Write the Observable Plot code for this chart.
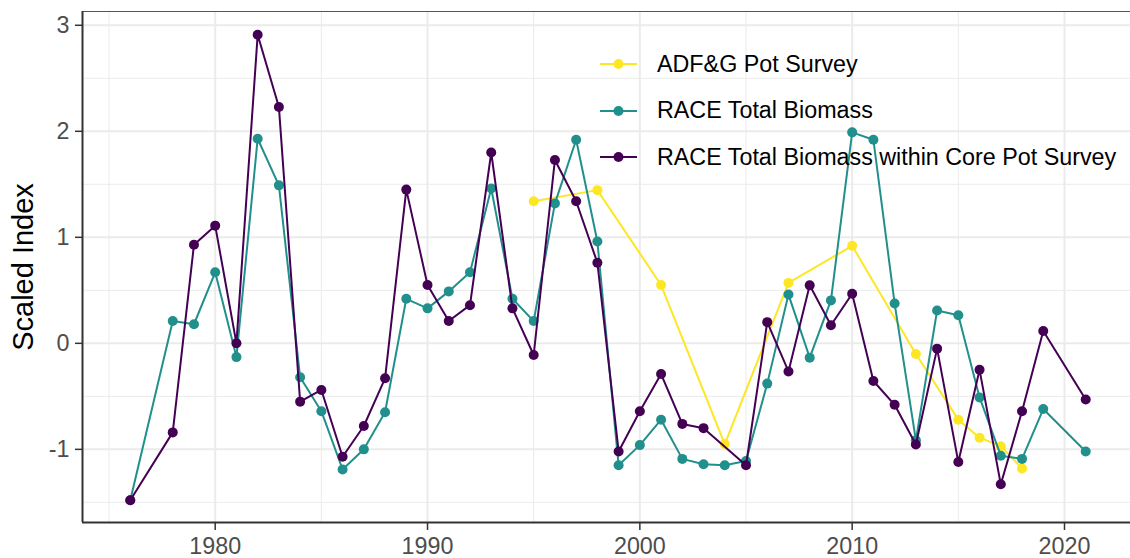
<!DOCTYPE html>
<html>
<head>
<meta charset="utf-8">
<script src="https://cdn.jsdelivr.net/npm/d3@7"></script>
<script src="https://cdn.jsdelivr.net/npm/@observablehq/plot@0.6"></script>
<style>
  html, body { margin: 0; padding: 0; background: #fff; }
  #wrap { position: relative; width: 1130px; height: 558px; overflow: hidden; font-family: "Liberation Sans", Arial, sans-serif; }
  #legend { position: absolute; left: 600px; top: 41px; }
  .row { display: flex; align-items: center; height: 46.5px; font-size: 23.3px; color: #000; }
  .row svg { margin-right: 20px; }
</style>
</head>
<body>
<div id="wrap"></div>
<script>
// ---- data ----
const seriesNames = ["ADF&G Pot Survey", "RACE Total Biomass", "RACE Total Biomass within Core Pot Survey"];
const seriesColors = ["#FDE725", "#21908C", "#440154"];

const adfgYears = [1995, 1998, 2001, 2004, 2007, 2010, 2013, 2015, 2016, 2017, 2018];
const adfgValues = [1.34, 1.445, 0.55, -0.95, 0.57, 0.92, -0.10, -0.72, -0.89, -0.97, -1.18];

const raceYears = [1976, 1978, 1979, 1980, 1981, 1982, 1983, 1984, 1985, 1986, 1987, 1988, 1989, 1990,
  1991, 1992, 1993, 1994, 1995, 1996, 1997, 1998, 1999, 2000, 2001, 2002, 2003, 2004, 2005, 2006,
  2007, 2008, 2009, 2010, 2011, 2012, 2013, 2014, 2015, 2016, 2017, 2018, 2019, 2021];
const raceValues = [-1.48, 0.21, 0.18, 0.67, -0.13, 1.93, 1.49, -0.32, -0.64, -1.19, -1.00, -0.65, 0.42, 0.33,
  0.49, 0.67, 1.46, 0.42, 0.21, 1.32, 1.92, 0.96, -1.15, -0.96, -0.72, -1.09, -1.14, -1.15, -1.11, -0.38,
  0.46, -0.135, 0.405, 1.99, 1.92, 0.375, -0.915, 0.31, 0.265, -0.51, -1.06, -1.09, -0.62, -1.02];

const coreYears = [1976, 1978, 1979, 1980, 1981, 1982, 1983, 1984, 1985, 1986, 1987, 1988, 1989, 1990,
  1991, 1992, 1993, 1994, 1995, 1996, 1997, 1998, 1999, 2000, 2001, 2002, 2003, 2005, 2006,
  2007, 2008, 2009, 2010, 2011, 2012, 2013, 2014, 2015, 2016, 2017, 2018, 2019, 2021];
const coreValues = [-1.48, -0.84, 0.93, 1.11, 0.00, 2.91, 2.23, -0.55, -0.44, -1.07, -0.78, -0.33, 1.45, 0.55,
  0.21, 0.36, 1.80, 0.33, -0.11, 1.73, 1.34, 0.76, -1.02, -0.64, -0.29, -0.76, -0.80, -1.15, 0.20,
  -0.265, 0.547, 0.17, 0.468, -0.355, -0.58, -0.955, -0.05, -1.12, -0.25, -1.33, -0.64, 0.116, -0.53];

const xMajor = [1980, 1990, 2000, 2010, 2020];
const xMinor = [1975, 1985, 1995, 2005, 2015];
const yMajor = [-1, 0, 1, 2, 3];
const yMinor = [-1.5, -0.5, 0.5, 1.5, 2.5];
const yTitle = "Scaled Index";

// ---- build ----
const toRows = (years, values, s) => years.map((yr, i) => ({year: yr, value: values[i], series: s}));
const series = [
  toRows(adfgYears, adfgValues, seriesNames[0]),
  toRows(raceYears, raceValues, seriesNames[1]),
  toRows(coreYears, coreValues, seriesNames[2])
];

const marks = [
  Plot.gridX(xMinor, {stroke: "#EBEBEB", strokeOpacity: 1, strokeWidth: 1}),
  Plot.gridY(yMinor, {stroke: "#EBEBEB", strokeOpacity: 1, strokeWidth: 1}),
  Plot.gridX(xMajor, {stroke: "#EBEBEB", strokeOpacity: 1, strokeWidth: 2}),
  Plot.gridY(yMajor, {stroke: "#EBEBEB", strokeOpacity: 1, strokeWidth: 2}),
  Plot.frame({stroke: "#555", strokeWidth: 1}),
  Plot.axisX(xMajor, {tickSize: 8, tickPadding: 7, fontSize: 23.3, stroke: "#333", fill: "#4D4D4D", strokeWidth: 1.5, tickFormat: d => String(d), label: null}),
  Plot.axisY(yMajor, {tickSize: 7, tickPadding: 6, fontSize: 23.3, stroke: "#333", fill: "#4D4D4D", strokeWidth: 1.5, tickFormat: d => String(d), label: null}),
  Plot.text([yTitle], {frameAnchor: "left", textAnchor: "middle", rotate: -90, dx: -59, fontSize: 29, fill: "#000"})
];
series.forEach((rows, i) => {
  marks.push(Plot.line(rows, {x: "year", y: "value", stroke: seriesColors[i], strokeWidth: 2}));
  marks.push(Plot.dot(rows, {x: "year", y: "value", fill: seriesColors[i], r: 5}));
});
marks.push(Plot.ruleX([1973.75], {stroke: "#333", strokeWidth: 2}));
marks.push(Plot.ruleY([-1.69], {stroke: "#333", strokeWidth: 2}));

const chart = Plot.plot({
  width: 1130,
  height: 558,
  marginLeft: 82,
  marginRight: -3,
  marginTop: 11,
  marginBottom: 36,
  style: {fontFamily: "'Liberation Sans', Arial, sans-serif", background: "#fff", overflow: "hidden"},
  x: {domain: [1973.75, 2023.25]},
  y: {domain: [-1.69, 3.13]},
  marks
});

const wrap = document.getElementById("wrap");
wrap.appendChild(chart);

// legend overlay
const legend = document.createElement("div");
legend.id = "legend";
seriesNames.forEach((name, i) => {
  const row = document.createElement("div");
  row.className = "row";
  row.innerHTML = `<svg width="37" height="12"><line x1="0" x2="37" y1="6" y2="6" stroke="${seriesColors[i]}" stroke-width="2"/><circle cx="18.5" cy="6" r="5" fill="${seriesColors[i]}"/></svg><span></span>`;
  row.querySelector("span").textContent = name;
  legend.appendChild(row);
});
wrap.appendChild(legend);
</script>
</body>
</html>
